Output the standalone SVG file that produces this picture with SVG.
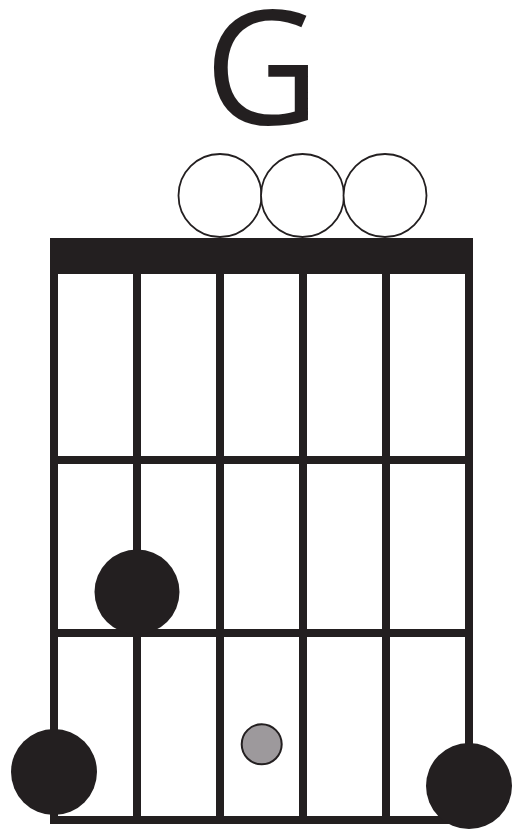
<svg xmlns="http://www.w3.org/2000/svg" width="514" height="829" viewBox="0 0 514 829">
<style>
.s{stroke:#231f20;stroke-width:8;fill:none}
.f{fill:#231f20}
.o{fill:#fff;stroke:#231f20;stroke-width:1.8}
.t{font-family:"Open Sans","Noto Sans",sans-serif;fill:#231f20;font-size:159px;text-anchor:middle}
</style>
<rect width="514" height="829" fill="#fff"/>
<g id="title"><text class="t" x="262" y="124">G</text></g>
<g id="grid">
<rect id="nut" class="f" x="50" y="238" width="423" height="36"/>
<line class="s" x1="54" y1="274" x2="54" y2="824"/>
<line class="s" x1="137" y1="274" x2="137" y2="824"/>
<line class="s" x1="220" y1="274" x2="220" y2="824"/>
<line class="s" x1="303" y1="274" x2="303" y2="824"/>
<line class="s" x1="386" y1="274" x2="386" y2="824"/>
<line class="s" x1="469" y1="274" x2="469" y2="824"/>
<line class="s" x1="54" y1="460" x2="469" y2="460"/>
<line class="s" x1="54" y1="633" x2="469" y2="633"/>
<line class="s" x1="54" y1="820" x2="469" y2="820"/>
</g>
<g id="open1"><circle class="o" cx="220" cy="195.5" r="41.5"/></g>
<g id="open2"><circle class="o" cx="302.5" cy="195.5" r="41.5"/></g>
<g id="open3"><circle class="o" cx="385" cy="195.5" r="41.5"/></g>
<g id="dot-a"><circle class="f" cx="137" cy="592" r="42.5"/></g>
<g id="dot-b"><circle class="f" cx="54" cy="772" r="43"/></g>
<g id="dot-c"><circle class="f" cx="469" cy="786" r="43"/></g>
<g id="dot-gray"><circle cx="261.7" cy="744.3" r="20" fill="#9d999c" stroke="#231f20" stroke-width="2"/></g>
</svg>
